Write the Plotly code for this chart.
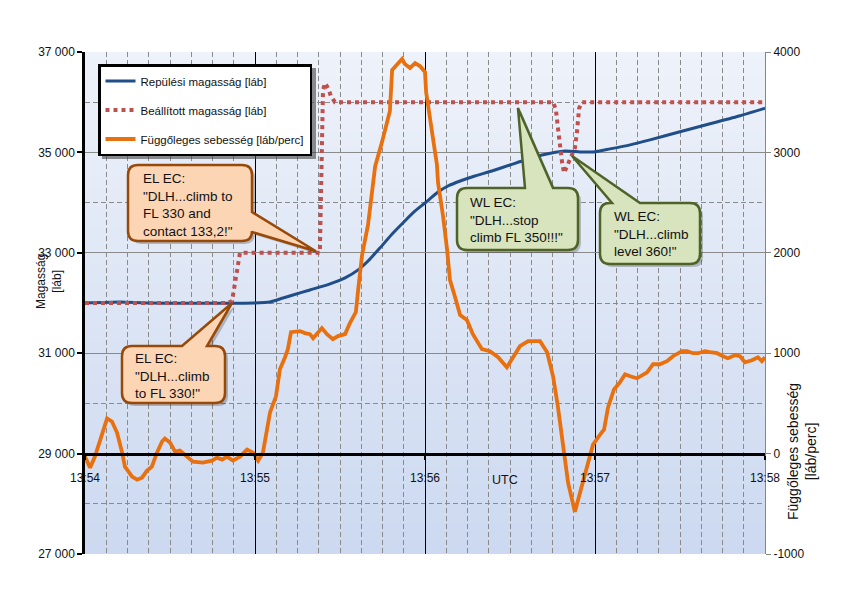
import plotly.graph_objects as go

# ---------------- data (time = seconds after 13:54:00 UTC) ----------------
t_alt = [0, 12.4, 22.9, 59.6, 65.3, 69.9, 73.4, 79.4, 86.5, 91.8, 96.4, 99.9, 104.1,
         108.4, 112.9, 116.5, 120.0, 124.6, 128.1, 132.4, 137.6, 143.6, 150.0, 155.3,
         161.3, 169.4, 174.7, 179.6, 185.3, 192.4, 199.4, 210.0, 220.6, 231.2, 240.0]
alt = [32000, 32020, 32000, 32000, 32020, 32100, 32160, 32260, 32380, 32500, 32660,
       32837, 33096, 33375, 33634, 33833, 33992, 34211, 34330, 34430, 34530, 34630,
       34749, 34849, 34948, 35028, 35010, 35010, 35070, 35150, 35250, 35410, 35570,
       35730, 35880]

t_sel = [0, 50.5, 51.9, 54.7, 82.9, 84.0, 84.7, 85.8, 86.8, 88.2, 165.2, 166.2, 166.9,
         167.6, 168.4, 169.1, 170.5, 171.9, 172.9, 173.6, 174.0, 174.4, 175.4, 240.0]
sel = [32000, 32000, 32040, 33000, 33000, 36240, 36380, 36280, 36120, 36000, 36000,
       35850, 35500, 35110, 34790, 34590, 34790, 34950, 35090, 35390, 35710, 35880,
       36000, 36000]

t_vs = [0, 1.8, 3.5, 6.0, 7.8, 9.5, 11.3, 13.1, 14.1, 16.6, 18.4, 20.1, 21.9, 23.6,
        25.4, 27.2, 28.2, 30.0, 31.8, 33.5, 36.0, 38.1, 41.6, 44.8, 46.6, 48.4, 50.1,
        52.2, 54.7, 57.2, 59.3, 61.1, 62.8, 64.2, 65.3, 67.4, 68.1, 68.8, 70.6, 71.6,
        72.7, 75.9, 77.6, 79.4, 80.5, 83.6, 85.4, 87.5, 89.3, 91.8, 93.5, 95.6, 96.4,
        97.8, 99.9, 102.4, 104.8, 107.6, 108.4, 110.1, 111.9, 112.9, 114.7, 116.5,
        118.2, 120.0, 120.4, 122.5, 124.2, 124.6, 126.4, 127.8, 128.8, 130.6, 132.4,
        134.8, 136.9, 140.1, 142.9, 145.8, 148.9, 151.1, 153.5, 156.4, 160.6, 163.1,
        165.2, 166.9, 168.7, 170.5, 172.9, 174.7, 177.2, 179.3, 181.8, 183.2, 184.6,
        186.7, 188.8, 190.6, 192.4, 194.8, 198.4, 200.5, 202.9, 205.4, 207.5, 210.7,
        212.5, 214.6, 216.4, 218.8, 220.6, 223.1, 225.2, 226.9, 229.4, 231.2, 232.9,
        235.4, 237.5, 238.9, 240.0]
vs = [-30, -140, -30, 210, 350, 320, 210, 10, -130, -230, -260, -240, -170, -130,
      10, 120, 150, 110, 20, 30, -30, -80, -90, -70, -40, -60, -30,
      -70, -30, 40, 10, -70, 10, 210, 410, 570, 710, 840, 960, 1040,
      1210, 1220, 1200, 1190, 1150, 1250, 1190, 1140, 1170, 1190, 1300, 1410, 1630,
      1980, 2280, 2860, 3100, 3410, 3820, 3870, 3930, 3880, 3840, 3890,
      3860, 3800, 3600, 3200, 2880, 2700, 2360, 2030, 1730, 1560, 1380,
      1330, 1190, 1040, 1020, 960, 860, 960, 1070, 1120, 1120, 1010,
      770, 470, 70, -290, -580, -390, -130, 90, 190, 240, 460,
      640, 710, 790, 770, 750, 810, 890, 890, 920, 970, 1020,
      1020, 1000, 1000, 1020, 1010, 1000, 970, 950, 980, 970, 910,
      930, 960, 920, 960]

x_tickvals = [0, 60, 120, 180, 240]
x_ticklabels = ["13:54", "13:55", "13:56", "13:57", "13:58"]
alt_ticks = [27000, 29000, 31000, 33000, 35000, 37000]
alt_ticklabels = ["27 000", "29 000", "31 000", "33 000", "35 000", "37 000"]
vs_ticks = [-1000, 0, 1000, 2000, 3000, 4000]
vs_ticklabels = ["-1000", "0", "1000", "2000", "3000", "4000"]

names = ["Repülési magasság [láb]", "Beállított magasság [láb]",
         "Függőleges sebesség [láb/perc]"]

# ---------------- geometry ----------------
W, H = 842, 595
ML, MR, MT, MB = 85, 77, 52, 41
PW, PH = W - ML - MR, H - MT - MB
X_RANGE = [0, 240]
Y_RANGE = [27000, 37000]


def px(xp):
    return (xp - ML) / PW


def py(yp):
    return (H - MB - yp) / PH


def data_to_pix(t, a):
    xp = ML + (t - X_RANGE[0]) / (X_RANGE[1] - X_RANGE[0]) * PW
    yp = MT + (Y_RANGE[1] - a) / (Y_RANGE[1] - Y_RANGE[0]) * PH
    return xp, yp


def callout_path(x0, y0, x1, y1, r, edge, b0, b1, tip, dx=0, dy=0):
    tx, ty = tip
    pts = []

    def P(cmd, *xy):
        s = cmd
        for i in range(0, len(xy), 2):
            s += " %.5f,%.5f" % (px(xy[i] + dx), py(xy[i + 1] + dy))
        pts.append(s)

    P("M", x0 + r, y0)
    if edge == "top":
        P("L", b0, y0)
        P("L", tx, ty)
        P("L", b1, y0)
    P("L", x1 - r, y0)
    P("Q", x1, y0, x1, y0 + r)
    if edge == "right":
        P("L", x1, b0)
        P("L", tx, ty)
        P("L", x1, b1)
    P("L", x1, y1 - r)
    P("Q", x1, y1, x1 - r, y1)
    P("L", x0 + r, y1)
    P("Q", x0, y1, x0, y1 - r)
    P("L", x0, y0 + r)
    P("Q", x0, y0, x0 + r, y0)
    return " ".join(pts) + " Z"


FONT = "Liberation Sans, Arial, sans-serif"
TXT = "#111111"

fig = go.Figure()
fig.add_trace(go.Scatter(x=t_alt, y=alt, mode="lines", name=names[0],
                         line=dict(color="#1F4E89", width=3, shape="spline",
                                   smoothing=0.6),
                         legendgroup="a", yaxis="y"))
fig.add_trace(go.Scatter(x=t_sel, y=sel, mode="lines", name=names[1],
                         line=dict(color="#C0504D", width=4, dash="4px,4px"),
                         legendgroup="b", yaxis="y"))
fig.add_trace(go.Scatter(x=t_vs, y=vs, mode="lines", name=names[2],
                         line=dict(color="#E8700E", width=3.8),
                         legendgroup="c", yaxis="y2"))

shapes = []
# gradient background of plot area
N = 80
top = (0xEE, 0xF2, 0xFA)
bot = (0xCC, 0xD9, 0xF0)
for i in range(N):
    f = (i + 0.5) / N
    c = tuple(round(bot[k] + (top[k] - bot[k]) * f) for k in range(3))
    shapes.append(dict(type="rect", xref="paper", yref="paper", x0=0, x1=1,
                       y0=i / N, y1=min(1, (i + 1) / N + 0.003),
                       fillcolor="rgb(%d,%d,%d)" % c, line=dict(width=0),
                       layer="below"))

# legend drop shadow
shapes.append(dict(type="rect", xref="paper", yref="paper",
                   x0=px(102), x1=px(316), y0=py(68), y1=py(159),
                   fillcolor="rgba(70,70,70,0.6)", line=dict(width=0), layer="above"))

callouts = [
    dict(box=(128, 165, 252, 241), edge="right", base=(212, 232), tip=(81.5, 33030),
         fill="#FCD5B5", line="#984807",
         text='EL EC:<br>"DLH...climb to<br>FL 330 and<br>contact 133,2!"',
         tx=141, ty=205),
    dict(box=(122, 346, 225, 403), edge="top", base=(182, 207), tip=(51.9, 32000),
         fill="#FCD5B5", line="#984807",
         text='EL EC:<br>"DLH...climb<br>to FL 330!"', tx=133, ty=376),
    dict(box=(457, 188, 578, 250), edge="top", base=(525, 553), tip=(152.8, 35885),
         fill="#D7E4BD", line="#4F6228",
         text='WL EC:<br>"DLH...stop<br>climb FL 350!!!"', tx=468, ty=220),
    dict(box=(600, 203, 700, 264), edge="top", base=(612, 640), tip=(171.9, 34928),
         fill="#D7E4BD", line="#4F6228",
         text='WL EC:<br>"DLH...climb<br>level 360!"', tx=612, ty=234),
]

annotations = []
for c in callouts:
    x0, y0, x1, y1 = c["box"]
    tip = data_to_pix(*c["tip"])
    shapes.append(dict(type="path", xref="paper", yref="paper",
                       path=callout_path(x0, y0, x1, y1, 10, c["edge"], *c["base"], tip,
                                         dx=3, dy=3),
                       fillcolor="rgba(0,0,0,0.22)", line=dict(width=0), layer="above"))
    shapes.append(dict(type="path", xref="paper", yref="paper",
                       path=callout_path(x0, y0, x1, y1, 10, c["edge"], *c["base"], tip),
                       fillcolor=c["fill"], line=dict(color=c["line"], width=2.5),
                       layer="above"))
    annotations.append(dict(xref="paper", yref="paper", x=px(c["tx"]), y=py(c["ty"]),
                            xanchor="left", yanchor="middle", align="left",
                            showarrow=False, text=c["text"],
                            font=dict(family=FONT, size=13.5, color=TXT)))

# axis titles
annotations.append(dict(xref="paper", yref="paper", x=px(49), y=py(282),
                        text="Magasság<br>[láb]", textangle=-90, showarrow=False,
                        xanchor="center", yanchor="middle",
                        font=dict(family=FONT, size=12, color=TXT)))
annotations.append(dict(xref="paper", yref="paper", x=px(802), y=py(452),
                        text="Függőleges sebesség<br>[láb/perc]", textangle=-90,
                        showarrow=False, xanchor="center", yanchor="middle",
                        font=dict(family=FONT, size=14, color=TXT)))
annotations.append(dict(xref="paper", yref="paper", x=px(505), y=py(480),
                        text="UTC", showarrow=False, xanchor="center", yanchor="middle",
                        font=dict(family=FONT, size=12.5, color=TXT)))

GRID = "#8A8A8A"
DASH = "5px,3px"
fig.update_layout(
    width=W, height=H,
    margin=dict(l=ML, r=MR, t=MT, b=MB, pad=0),
    paper_bgcolor="white", plot_bgcolor="#DEE6F5",
    font=dict(family=FONT, size=12, color=TXT),
    showlegend=True,
    legend=dict(x=px(98), y=py(64), xanchor="left", yanchor="top",
                bgcolor="white", bordercolor="black", borderwidth=2.5,
                font=dict(family=FONT, size=11.5, color=TXT),
                tracegroupgap=10, itemwidth=30, traceorder="grouped"),
    xaxis=dict(range=X_RANGE, tickmode="array", tickvals=x_tickvals,
               ticktext=x_ticklabels, showgrid=True, gridcolor="black", gridwidth=1,
               minor=dict(tickmode="linear", tick0=0, dtick=7.5, showgrid=True,
                          gridcolor=GRID, griddash=DASH, gridwidth=1),
               anchor="free", position=py(454), showline=True, linecolor="black",
               linewidth=2.5, ticks="outside", ticklen=4, tickwidth=2,
               tickcolor="black", zeroline=False, ticklabelstandoff=8,
               tickfont=dict(family=FONT, size=12, color=TXT)),
    yaxis=dict(range=Y_RANGE, tickmode="array", tickvals=alt_ticks,
               ticktext=alt_ticklabels, showgrid=True, gridcolor=GRID, gridwidth=1,
               minor=dict(tickmode="linear", tick0=27000, dtick=1000, showgrid=True,
                          gridcolor=GRID, griddash=DASH, gridwidth=1),
               showline=True, linecolor="black", linewidth=2.5, ticks="outside",
               ticklen=5, tickwidth=2, tickcolor="black", zeroline=False,
               tickfont=dict(family=FONT, size=12, color=TXT)),
    yaxis2=dict(range=[-1000, 4000], overlaying="y", side="right", tickmode="array",
                tickvals=vs_ticks, ticktext=vs_ticklabels, showgrid=False,
                showline=True, linecolor="#868686", linewidth=1, ticks="outside",
                ticklen=5, tickcolor="#868686", zeroline=False,
                tickfont=dict(family=FONT, size=12, color=TXT)),
    shapes=shapes,
    annotations=annotations,
)

fig.write_html("out.html")
